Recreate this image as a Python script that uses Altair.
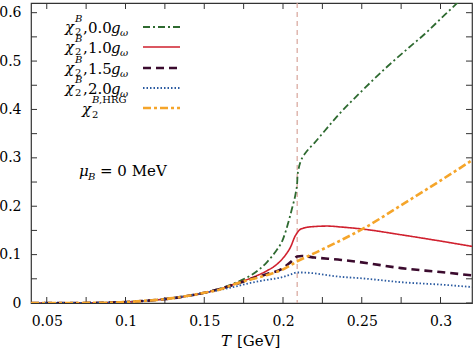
import altair as alt
import pandas as pd

# ---------------- data ----------------
T_LOW = [0.04, 0.06, 0.08, 0.09, 0.10, 0.11, 0.12, 0.13, 0.14, 0.15]
CHI_LOW = [0.0, 0.0, 0.0003, 0.0008, 0.002, 0.004, 0.0065, 0.010, 0.015, 0.021]

T_G00 = [0.16, 0.17, 0.18, 0.19, 0.195, 0.2, 0.203, 0.206, 0.208, 0.209, 0.2092, 0.2097,
         0.2103, 0.211, 0.2122, 0.214, 0.2165, 0.22, 0.226, 0.235, 0.25, 0.265, 0.28, 0.29,
         0.30, 0.31, 0.32]
CHI_G00 = [0.030, 0.042, 0.058, 0.085, 0.105, 0.132, 0.162, 0.199, 0.226, 0.248, 0.262, 0.274,
           0.283, 0.291, 0.300, 0.309, 0.319, 0.331, 0.354, 0.388, 0.438, 0.485, 0.528, 0.556,
           0.587, 0.618, 0.648]

T_G10 = [0.16, 0.17, 0.18, 0.19, 0.195, 0.199, 0.202, 0.205, 0.2075, 0.209, 0.2105,
         0.2145, 0.22, 0.228, 0.237, 0.25, 0.275, 0.30, 0.32]
CHI_G10 = [0.029, 0.040, 0.052, 0.067, 0.077, 0.089, 0.101, 0.117, 0.137, 0.145, 0.151,
           0.156, 0.158, 0.159, 0.157, 0.153, 0.141, 0.128, 0.117]

T_G15 = [0.16, 0.17, 0.18, 0.19, 0.199, 0.205, 0.209, 0.212, 0.22, 0.237, 0.25, 0.275, 0.30, 0.32]
CHI_G15 = [0.029, 0.039, 0.050, 0.060, 0.070, 0.085, 0.096, 0.097, 0.094, 0.089, 0.084, 0.072, 0.064, 0.057]

T_G20 = [0.16, 0.17, 0.18, 0.19, 0.199, 0.205, 0.209, 0.212, 0.237, 0.25, 0.275, 0.30, 0.32]
CHI_G20 = [0.027, 0.034, 0.042, 0.048, 0.053, 0.059, 0.063, 0.063, 0.054, 0.051, 0.043, 0.038, 0.033]

T_HRG = [0.16, 0.17, 0.18, 0.19, 0.199, 0.209, 0.22, 0.237, 0.25, 0.275, 0.30, 0.32]
CHI_HRG = [0.028, 0.040, 0.049, 0.058, 0.068, 0.086, 0.103, 0.130, 0.152, 0.202, 0.253, 0.295]

T_C = [0.209]

X_TICKS = [0.05, 0.075, 0.1, 0.125, 0.15, 0.175, 0.2, 0.225, 0.25, 0.275, 0.3]
X_LABELS = [0.05, 0.1, 0.15, 0.2, 0.25, 0.3]
Y_TICKS = [0.0, 0.05, 0.1, 0.15, 0.2, 0.25, 0.3, 0.35, 0.4, 0.45, 0.5, 0.55, 0.6]
Y_LABELS = [0.0, 0.1, 0.2, 0.3, 0.4, 0.5, 0.6]

# ---------------- layout / style ----------------
W, H = 441, 300
FONT = "DejaVu Serif"

xs = alt.Scale(domain=[0.04, 0.32], nice=False, zero=False)
ys = alt.Scale(domain=[0, 0.62], nice=False)

series = [
    (T_G00, CHI_G00, "#2e6a30", [7, 3, 2, 3], 1.8),
    (T_G10, CHI_G10, "#d0202e", [1, 0], 1.6),
    (T_G15, CHI_G15, "#3b0b2e", [8, 5], 2.6),
    (T_G20, CHI_G20, "#2a5aa0", [1.5, 2], 1.8),
    (T_HRG, CHI_HRG, "#f5a52a", [8, 3, 3, 3], 2.6),
]

layers = []

# dashed vertical line at T_c
layers.append(
    alt.Chart(pd.DataFrame({"T": T_C})).mark_rule(
        color="#d8a49a", strokeDash=[5, 4], strokeWidth=1.2
    ).encode(x=alt.X("T:Q", scale=xs))
)

# axes for labels only
axis_base = alt.Chart(pd.DataFrame({"T": [0.1], "v": [0.1]})).mark_point(opacity=0).encode(
    x=alt.X("T:Q", scale=xs, title=None,
            axis=alt.Axis(values=X_LABELS, format=".2~f", ticks=False, domain=False, grid=False,
                          labelFont=FONT, labelFontSize=14, labelColor="#000",
                          labelPadding=11)),
    y=alt.Y("v:Q", scale=ys, title=None,
            axis=alt.Axis(values=Y_LABELS, format=".1~f", ticks=False, domain=False, grid=False,
                          labelFont=FONT, labelFontSize=14, labelColor="#000",
                          labelPadding=10)),
)
layers.append(axis_base)

# inward ticks on all four sides
xt = pd.DataFrame({"T": X_TICKS})
yt = pd.DataFrame({"v": Y_TICKS})
TICK = "#333333"
layers.append(alt.Chart(xt).mark_rule(color=TICK).encode(
    x=alt.X("T:Q", scale=xs), y=alt.value(H), y2=alt.value(H - 6)))
layers.append(alt.Chart(xt).mark_rule(color=TICK).encode(
    x=alt.X("T:Q", scale=xs), y=alt.value(0), y2=alt.value(6)))
layers.append(alt.Chart(yt).mark_rule(color=TICK).encode(
    y=alt.Y("v:Q", scale=ys), x=alt.value(0), x2=alt.value(6)))
layers.append(alt.Chart(yt).mark_rule(color=TICK).encode(
    y=alt.Y("v:Q", scale=ys), x=alt.value(W), x2=alt.value(W - 6)))

# curves
for tt, cc, col, dash, sw in series:
    df = pd.DataFrame({"T": T_LOW + tt, "chi": CHI_LOW + cc})
    layers.append(
        alt.Chart(df).mark_line(color=col, strokeDash=dash, strokeWidth=sw,
                                clip=True, interpolate="monotone").encode(
            x=alt.X("T:Q", scale=xs), y=alt.Y("chi:Q", scale=ys))
    )

dummy = pd.DataFrame({"a": [0]})


def txt(s, x, y, size=16, italic=False, align="left"):
    kw = dict(text=s, font=FONT, fontSize=size, align=align, baseline="alphabetic", color="#000")
    if italic:
        kw["fontStyle"] = "italic"
    return alt.Chart(dummy).mark_text(**kw).encode(x=alt.value(x), y=alt.value(y))


# legend (plot coordinates: abs - (31, 3))
rows_c = [24, 44, 65, 85, 105]
labels = ["0.0", "1.0", "1.5", "2.0"]
for i, lab in enumerate(labels):
    yc = rows_c[i]
    layers += [
        txt("\u03c7", 34, yc + 5, 15, italic=True),
        txt("B", 44, yc - 5, 10, italic=True),
        txt("2", 44, yc + 8, 10),
        txt(",", 52, yc + 6, 15),
        txt(lab, 57, yc + 6, 15),
        txt("g", 80, yc + 6, 15, italic=True),
        txt("\u03c9", 89, yc + 9, 10, italic=True),
    ]
yc = rows_c[4]
layers += [
    txt("\u03c7", 51, yc + 6, 15, italic=True),
    txt("2", 61, yc + 10, 10),
    txt("B", 61, yc - 5, 10, italic=True),
    txt(",HRG", 68, yc - 5, 10),
]
for i, (tt, cc, col, dash, sw) in enumerate(series):
    layers.append(
        alt.Chart(dummy).mark_rule(color=col, strokeDash=dash, strokeWidth=sw).encode(
            x=alt.value(112), x2=alt.value(149), y=alt.value(rows_c[i]), y2=alt.value(rows_c[i]))
    )

# mu_B annotation
layers += [
    txt("\u03bc", 48, 173, 15, italic=True),
    txt("B", 57, 177, 10, italic=True),
    txt("= 0 MeV", 69, 173, 15),
]

# x-axis title
layers += [
    txt("T", 200, 343, 15, italic=True, align="right"),
    txt("[GeV]", 206, 343, 15),
]

chart = alt.layer(*layers).properties(
    width=W, height=H,
    padding={"left": 31, "top": 3, "right": 2, "bottom": 48},
    autosize=alt.AutoSizeParams(type="none"),
).configure_view(stroke="#333333", strokeWidth=1.2)

chart.save("out.html", embed_options={"renderer": "svg", "actions": False})
